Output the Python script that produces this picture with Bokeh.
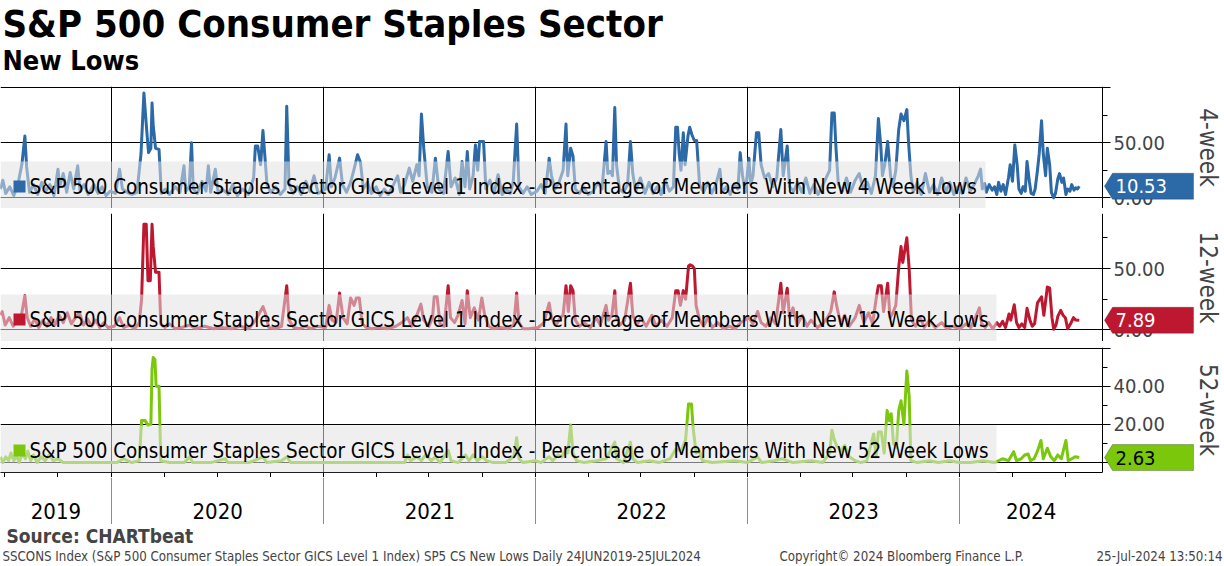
import pandas as pd
from bokeh.plotting import figure
from bokeh.models import (Range1d, LinearAxis, FixedTicker, Grid, Label, PolyAnnotation,
                          BoxAnnotation, PrintfTickFormatter)
from bokeh.layouts import column
from bokeh.embed import file_html
from bokeh.resources import INLINE
from bokeh.core.properties import value

FONT = "DejaVu Sans Condensed"

# ---------------- data ----------------
d4 = ["2019-06-24","2019-06-28","2019-07-03","2019-07-10","2019-07-17","2019-07-24","2019-07-31","2019-08-05","2019-08-08","2019-08-13",
      "2019-08-20","2019-08-27","2019-09-03","2019-09-10","2019-09-17","2019-09-24","2019-10-01","2019-10-04","2019-10-10","2019-10-16",
      "2019-10-22","2019-10-28","2019-11-04","2019-11-08","2019-11-15","2019-11-22","2019-12-02","2019-12-09","2019-12-16","2019-12-23",
      "2019-12-30","2020-01-08","2020-01-15","2020-01-20","2020-01-28","2020-02-05","2020-02-14","2020-02-21","2020-02-26","2020-03-02",
      "2020-03-05","2020-03-09","2020-03-11","2020-03-13","2020-03-17","2020-03-23","2020-03-27","2020-04-03","2020-04-10","2020-04-20",
      "2020-04-28","2020-05-05","2020-05-08","2020-05-14","2020-05-18","2020-05-21","2020-05-28","2020-06-05","2020-06-12","2020-06-16",
      "2020-06-20","2020-06-28","2020-07-03","2020-07-10","2020-07-20","2020-07-28","2020-08-05","2020-08-14","2020-08-24","2020-09-02",
      "2020-09-05","2020-09-09","2020-09-14","2020-09-18","2020-09-21","2020-09-25","2020-10-02","2020-10-10","2020-10-18","2020-10-26",
      "2020-10-29","2020-11-02","2020-11-09","2020-11-16","2020-11-23","2020-12-01","2020-12-08","2020-12-15","2020-12-22","2021-01-04",
      "2021-01-10","2021-01-14","2021-01-20","2021-01-28","2021-02-02","2021-02-09","2021-02-16","2021-02-22","2021-02-28","2021-03-05",
      "2021-03-10","2021-03-17","2021-03-24","2021-04-01","2021-04-08","2021-04-15","2021-04-22","2021-05-01","2021-05-08","2021-05-13",
      "2021-05-20","2021-05-28","2021-06-03","2021-06-10","2021-06-14","2021-06-18","2021-06-22","2021-06-28","2021-07-06","2021-07-12",
      "2021-07-18","2021-07-26","2021-08-03","2021-08-08","2021-08-15","2021-08-22","2021-08-27","2021-09-01","2021-09-05","2021-09-09",
      "2021-09-15","2021-09-19","2021-09-23","2021-09-26","2021-10-03","2021-10-07","2021-10-14","2021-10-21","2021-10-28","2021-11-04",
      "2021-11-11","2021-11-18","2021-11-23","2021-11-29","2021-12-03","2021-12-10","2021-12-17","2021-12-24","2022-01-03","2022-01-10",
      "2022-01-17","2022-01-24","2022-01-28","2022-02-03","2022-02-10","2022-02-17","2022-02-22","2022-02-25","2022-03-02","2022-03-06",
      "2022-03-10","2022-03-17","2022-03-24","2022-04-01","2022-04-10","2022-04-18","2022-04-25","2022-05-02","2022-05-05","2022-05-09",
      "2022-05-13","2022-05-17","2022-05-20","2022-05-25","2022-06-01","2022-06-08","2022-06-13","2022-06-17","2022-06-22","2022-06-30",
      "2022-07-08","2022-07-15","2022-07-22","2022-07-29","2022-08-05","2022-08-12","2022-08-19","2022-08-26","2022-08-30","2022-09-02",
      "2022-09-05","2022-09-08","2022-09-12","2022-09-15","2022-09-20","2022-09-23","2022-09-27","2022-10-01","2022-10-05","2022-10-10",
      "2022-10-17","2022-10-24","2022-10-31","2022-11-07","2022-11-14","2022-11-18","2022-11-25","2022-12-02","2022-12-09","2022-12-15",
      "2022-12-19","2022-12-23","2022-12-28","2023-01-03","2023-01-06","2023-01-10","2023-01-16","2023-01-20","2023-01-24","2023-01-30",
      "2023-02-06","2023-02-13","2023-02-20","2023-02-27","2023-03-03","2023-03-10","2023-03-14","2023-03-21","2023-03-28","2023-04-04",
      "2023-04-11","2023-04-18","2023-04-25","2023-05-02","2023-05-09","2023-05-16","2023-05-22","2023-05-26","2023-05-30","2023-06-02",
      "2023-06-06","2023-06-13","2023-06-20","2023-06-27","2023-07-05","2023-07-12","2023-07-19","2023-07-26","2023-08-02","2023-08-09",
      "2023-08-14","2023-08-18","2023-08-21","2023-08-25","2023-08-30","2023-09-04","2023-09-08","2023-09-13","2023-09-18","2023-09-22",
      "2023-09-27","2023-10-02","2023-10-05","2023-10-09","2023-10-13","2023-10-20","2023-10-27","2023-11-03","2023-11-10","2023-11-17",
      "2023-11-24","2023-12-01","2023-12-08","2023-12-15","2023-12-22","2023-12-29","2024-01-05","2024-01-12","2024-01-19","2024-01-26",
      "2024-02-02","2024-02-06","2024-02-09","2024-02-13","2024-02-16","2024-02-21","2024-02-26","2024-03-01","2024-03-05","2024-03-08",
      "2024-03-12","2024-03-16","2024-03-20","2024-03-25","2024-03-28","2024-04-01","2024-04-05","2024-04-09","2024-04-12","2024-04-16",
      "2024-04-19","2024-04-23","2024-04-26","2024-04-30","2024-05-03","2024-05-07","2024-05-10","2024-05-14","2024-05-17","2024-05-21",
      "2024-05-24","2024-05-28","2024-05-31","2024-06-04","2024-06-07","2024-06-11","2024-06-14","2024-06-18","2024-06-21","2024-06-25",
      "2024-06-28","2024-07-02","2024-07-05","2024-07-09","2024-07-12","2024-07-16","2024-07-19","2024-07-22","2024-07-25"]
v4 = [8,16,4,10,2,12,31,56,28,5,
      12,3,14,6,12,2,26,10,22,5,
      23,8,29,6,12,3,12,4,10,2,
      6,4,26,8,5,3,5,40,95,60,
      41,45,86,66,45,44,4,8,3,10,
      5,29,6,10,50,8,4,15,6,29,
      5,26,4,8,3,12,2,8,3,18,
      47,47,30,61,40,12,5,10,3,8,
      83,12,4,10,3,15,6,20,4,8,
      39,10,18,36,12,5,14,26,39,32,
      8,14,4,10,2,8,3,12,20,5,
      12,27,15,30,20,76,45,10,5,36,
      8,4,42,10,18,3,33,10,42,8,
      20,48,25,51,51,8,16,4,21,3,
      8,4,14,67,10,4,10,3,6,12,
      4,36,20,8,14,25,67,20,45,38,
      8,4,10,3,6,14,8,51,22,24,
      20,82,30,8,5,12,51,22,6,18,
      4,14,4,10,3,16,6,10,64,64,
      40,25,59,30,56,64,57,52,52,12,
      5,14,4,12,26,5,10,3,12,8,
      41,20,5,36,12,20,59,59,30,18,
      22,10,18,62,20,47,10,6,14,5,
      18,4,12,3,10,18,25,77,77,45,
      12,6,18,5,16,22,8,14,4,20,
      72,48,20,30,51,20,10,25,62,76,
      70,80,50,20,5,14,3,22,5,12,
      3,18,5,14,3,10,4,18,6,12,
      20,26,8,13,5,12,7,10,3,14,
      6,12,3,18,30,15,48,30,8,4,
      10,6,33,15,4,3,8,25,40,70,
      40,20,45,30,5,0,4,17,22,14,
      18,3,8,6,12,7,9,8,10.53]

d12 = ["2019-06-24","2019-06-27","2019-07-02","2019-07-09","2019-07-16","2019-07-23","2019-07-30","2019-08-05","2019-08-09","2019-08-15",
       "2019-08-22","2019-08-29","2019-09-05","2019-09-12","2019-09-19","2019-09-26","2019-10-03","2019-10-10","2019-10-17","2019-10-24",
       "2019-10-31","2019-11-07","2019-11-14","2019-11-21","2019-11-28","2019-12-05","2019-12-12","2019-12-19","2019-12-26","2020-01-06",
       "2020-01-15","2020-01-22","2020-02-01","2020-02-10","2020-02-18","2020-02-22","2020-02-26","2020-03-01","2020-03-04","2020-03-08",
       "2020-03-11","2020-03-13","2020-03-17","2020-03-23","2020-03-26","2020-04-02","2020-04-10","2020-04-20","2020-05-01","2020-05-15",
       "2020-05-25","2020-06-10","2020-06-25","2020-07-10","2020-07-25","2020-08-10","2020-08-25","2020-09-05","2020-09-10","2020-09-18",
       "2020-09-22","2020-09-28","2020-10-10","2020-10-20","2020-10-29","2020-11-02","2020-11-10","2020-11-20","2020-12-01","2020-12-10",
       "2020-12-20","2021-01-04","2021-01-10","2021-01-15","2021-01-22","2021-01-28","2021-02-03","2021-02-10","2021-02-16","2021-02-22",
       "2021-02-26","2021-03-03","2021-03-08","2021-03-15","2021-03-25","2021-04-05","2021-04-20","2021-05-05","2021-05-15","2021-05-25",
       "2021-06-01","2021-06-10","2021-06-17","2021-06-22","2021-07-01","2021-07-07","2021-07-10","2021-07-15","2021-07-20","2021-07-27",
       "2021-08-03","2021-08-07","2021-08-14","2021-08-20","2021-08-27","2021-09-01","2021-09-05","2021-09-10","2021-09-17","2021-09-24",
       "2021-09-30","2021-10-05","2021-10-12","2021-10-20","2021-11-01","2021-11-15","2021-11-24","2021-11-29","2021-12-03","2021-12-10",
       "2021-12-20","2022-01-05","2022-01-15","2022-01-24","2022-01-28","2022-02-05","2022-02-12","2022-02-17","2022-02-22","2022-02-26",
       "2022-03-02","2022-03-06","2022-03-10","2022-03-17","2022-03-25","2022-04-05","2022-04-15","2022-04-22","2022-05-02","2022-05-06",
       "2022-05-12","2022-05-17","2022-05-20","2022-05-26","2022-06-03","2022-06-13","2022-06-17","2022-06-24","2022-07-01","2022-07-10",
       "2022-07-20","2022-07-27","2022-08-05","2022-08-15","2022-08-24","2022-08-30","2022-09-03","2022-09-07","2022-09-12","2022-09-16",
       "2022-09-21","2022-09-24","2022-09-28","2022-10-01","2022-10-04","2022-10-10","2022-10-17","2022-10-24","2022-11-01","2022-11-10",
       "2022-11-20","2022-12-01","2022-12-10","2022-12-20","2023-01-03","2023-01-10","2023-01-18","2023-01-24","2023-02-01","2023-02-10",
       "2023-02-18","2023-02-27","2023-03-03","2023-03-10","2023-03-14","2023-03-20","2023-03-27","2023-04-05","2023-04-13","2023-04-20",
       "2023-05-01","2023-05-10","2023-05-18","2023-05-24","2023-05-30","2023-06-03","2023-06-10","2023-06-17","2023-06-25","2023-07-05",
       "2023-07-12","2023-07-20","2023-07-28","2023-08-04","2023-08-10","2023-08-14","2023-08-19","2023-08-23","2023-08-30","2023-09-03",
       "2023-09-08","2023-09-13","2023-09-18","2023-09-22","2023-09-25","2023-10-02","2023-10-06","2023-10-10","2023-10-17","2023-10-25",
       "2023-11-01","2023-11-10","2023-11-20","2023-12-01","2023-12-10","2023-12-20","2024-01-02","2024-01-12","2024-01-20","2024-01-28",
       "2024-02-04","2024-02-08","2024-02-14","2024-02-20","2024-02-27","2024-03-05","2024-03-10","2024-03-15","2024-03-20","2024-03-26",
       "2024-03-29","2024-04-04","2024-04-08","2024-04-12","2024-04-17","2024-04-22","2024-04-26","2024-05-01","2024-05-05","2024-05-09",
       "2024-05-14","2024-05-21","2024-05-25","2024-05-31","2024-06-04","2024-06-08","2024-06-11","2024-06-15","2024-06-18","2024-06-23",
       "2024-06-27","2024-07-01","2024-07-05","2024-07-10","2024-07-15","2024-07-19","2024-07-25"]
v12 = [12,15,4,10,3,8,12,28,10,3,
       9,2,8,3,10,4,12,6,14,5,
       10,14,4,9,3,8,2,6,2,3,
       10,2,4,1,6,25,86,86,40,40,
       86,68,47,47,5,2,5,1,2,4,
       1,3,1,2,1,3,1,8,12,19,
       14,2,1,3,36,8,2,1,3,1,
       3,2,20,8,6,30,10,5,26,20,
       26,26,5,2,1,2,1,3,6,10,
       3,12,21,8,3,10,27,27,5,3,
       36,10,6,12,24,5,32,10,18,8,
       26,12,3,1,2,1,4,30,6,1,
       1,2,6,22,10,4,10,12,36,15,
       36,32,8,3,6,2,10,4,20,8,
       12,32,10,4,8,38,12,4,10,3,
       12,3,8,3,10,32,32,20,32,25,
       52,53,52,50,20,8,3,10,2,6,
       1,3,1,6,10,5,15,6,3,10,
       5,38,14,34,10,18,4,12,3,8,
       2,5,10,15,31,20,5,12,3,10,
       20,6,14,5,25,36,36,15,38,10,
       14,20,51,68,55,75,50,8,3,10,
       2,8,2,6,1,3,1,5,2,10,
       18,5,2,6,1,6,3,7,2,13,
       8,20.5,6,2,5,2,17.6,8,3,5,
       22,27,12,35,34,10,0.5,4,11,16,
       12,10,1,5,10,8,7.89]

d52 = ["2019-06-24","2019-06-28","2019-07-03","2019-07-08","2019-07-12","2019-07-17","2019-07-22","2019-07-26","2019-08-01","2019-08-06",
       "2019-08-10","2019-08-15","2019-08-20","2019-08-26","2019-09-02","2019-09-09","2019-09-16","2019-09-23","2019-10-01","2019-10-10",
       "2019-11-01","2019-12-01","2020-01-10","2020-01-22","2020-02-05","2020-02-18","2020-02-22","2020-02-28","2020-03-04","2020-03-09",
       "2020-03-11","2020-03-13","2020-03-16","2020-03-18","2020-03-23","2020-03-26","2020-04-10","2020-05-05","2020-05-15","2020-05-20",
       "2020-06-20","2020-07-15","2020-07-20","2020-08-25","2020-09-10","2020-09-18","2020-09-25","2020-10-20","2020-10-29","2020-11-05",
       "2020-12-31","2021-04-01","2021-05-20","2021-05-25","2021-05-30","2021-06-10","2021-06-18","2021-06-25","2021-07-05","2021-07-12",
       "2021-07-20","2021-08-03","2021-08-08","2021-08-20","2021-09-02","2021-09-08","2021-09-15","2021-09-22","2021-10-01","2021-10-08",
       "2021-10-20","2021-11-10","2021-11-24","2021-11-29","2021-12-03","2021-12-10","2021-12-31","2022-01-10","2022-01-24","2022-01-30",
       "2022-02-08","2022-02-15","2022-02-20","2022-02-25","2022-03-02","2022-03-06","2022-03-12","2022-03-25","2022-04-15","2022-05-02",
       "2022-05-17","2022-05-20","2022-06-01","2022-06-13","2022-06-17","2022-06-25","2022-07-15","2022-08-01","2022-08-20","2022-08-30",
       "2022-09-08","2022-09-16","2022-09-21","2022-09-26","2022-09-29","2022-10-04","2022-10-10","2022-10-15","2022-11-01","2022-12-10",
       "2022-12-31","2023-01-18","2023-01-25","2023-02-15","2023-03-01","2023-03-10","2023-03-20","2023-04-20","2023-05-10","2023-05-22",
       "2023-05-26","2023-05-30","2023-06-03","2023-06-10","2023-06-17","2023-06-25","2023-07-05","2023-07-15","2023-07-25","2023-08-06",
       "2023-08-10","2023-08-14","2023-08-19","2023-08-24","2023-08-29","2023-09-02","2023-09-05","2023-09-09","2023-09-14","2023-09-18",
       "2023-09-22","2023-09-27","2023-10-02","2023-10-06","2023-10-09","2023-10-20","2023-11-10","2023-11-25","2023-12-15","2023-12-31",
       "2024-01-20","2024-02-10","2024-03-01","2024-03-15","2024-03-25","2024-04-03","2024-04-08","2024-04-16","2024-04-22","2024-04-28",
       "2024-05-02","2024-05-08","2024-05-14","2024-05-20","2024-05-24","2024-05-31","2024-06-06","2024-06-12","2024-06-18","2024-06-24",
       "2024-07-02","2024-07-06","2024-07-12","2024-07-18","2024-07-25"]
v52 = [3,0,3,1,5,1,4,0,5,2,
       6,1,4,0,3,1,4,1,2,0,
       0,0,0,2,0,1,22,22,19.5,20,
       49,55,54,40,40,1,0,0,3,0,
       0,2,0,0,2,3,0,1,3,0,
       0,0,0,4,1,3,1,4,1,3,
       0,6.5,1,0,4,1,4,1,3,1,
       0,0,3,13,2,0,1,0,3,1,
       4,3,6,5,19.7,5,1,0,1,2,
       10.7,2,0,10.7,2,0,1,0,2,7,
       6,12,30.7,30.7,18,5,6,1,0,1,
       0,3,0,1,2,1,0,1,0,5,
       17,12,9,6,9,3,1,0,1,15,
       3,16,16,5,27.3,22,25.6,10,8,27.3,
       32.4,20,48,35,1,0,1,0,1,0,
       0,1,0,2,1,5.7,1,2,4,4.5,
       1,2,6,11.6,2,7.5,3,1,4,2,
       11.6,1,2,3,2.63]

year_labels = ["2019", "2020", "2021", "2022", "2023", "2024"]

TITLE = "S&P 500 Consumer Staples Sector"
SUBTITLE = "New Lows"
LEG4 = "S&P 500 Consumer Staples Sector GICS Level 1 Index - Percentage of Members With New 4 Week Lows"
LEG12 = "S&P 500 Consumer Staples Sector GICS Level 1 Index - Percentage of Members With New 12 Week Lows"
LEG52 = "S&P 500 Consumer Staples Sector GICS Level 1 Index - Percentage of Members With New 52 Week Lows"

# ---------------- layout constants ----------------
W = 1224          # full width; frames span it
AXIS_PX = 1102    # where the value axis sits
BLUE, RED, GREEN = "#2b69a7", "#be1831", "#7ac70c"
X0, X1 = "2019-06-24", "2024-09-03"


def ms(s):
    return int(pd.Timestamp(s).value // 10**6)


XS, XE = ms(X0), ms(X1)
X_END = XS + (XE - XS) * W / AXIS_PX
year_ticks = [ms(f"{y}-01-01") for y in range(2020, 2025)]
quarter_ticks = [ms(t) for t in pd.date_range("2019-07-01", "2024-07-01", freq="QS")]
xr = Range1d(XS, X_END)


def px_x(px):
    """horizontal pixel offset in the frame -> x data value"""
    return XS + px * (X_END - XS) / W


def base_fig(fh, bg="white"):
    return figure(frame_width=W, frame_height=fh, x_range=xr, x_axis_type=None, y_axis_type=None,
                  toolbar_location=None, output_backend="svg", min_border_left=0, min_border_right=0,
                  min_border_top=0, min_border_bottom=0, outline_line_color=None,
                  background_fill_color=bg, border_fill_color=bg)


def panel(dates, vals, color, ylo, yhi, major, minor, hide, leg_label, leg_right, ax_label, fh,
          tag_txt_color, bottom_axis=False):
    p = base_fig(fh)
    p.y_range = Range1d(ylo, yhi)
    ppy = (yhi - ylo) / fh   # data units per pixel

    def px_y(py):
        return ylo + py * ppy

    ticker = FixedTicker(ticks=major, minor_ticks=minor)
    p.add_layout(Grid(dimension=1, ticker=ticker, grid_line_color="black", grid_line_width=1,
                      level="underlay"))
    p.add_layout(Grid(dimension=0, ticker=FixedTicker(ticks=year_ticks), grid_line_color="black",
                      grid_line_width=1, level="underlay"))
    # keep grid lines left of the value axis
    p.add_layout(BoxAnnotation(left=XE, fill_color="white", fill_alpha=1, line_alpha=0,
                               level="underlay"))
    ax = LinearAxis(ticker=ticker, formatter=PrintfTickFormatter(format="%.2f"), fixed_location=XE,
                    axis_label=ax_label, axis_label_text_font=FONT, axis_label_text_font_size="24px",
                    axis_label_text_font_style="normal", axis_label_standoff=26,
                    major_label_text_font=FONT, major_label_text_font_size="20px",
                    major_label_standoff=3, major_tick_out=8, major_tick_in=0,
                    minor_tick_out=5, minor_tick_in=0, axis_line_color="black",
                    major_tick_line_color="black", minor_tick_line_color="black",
                    major_label_overrides={h: "" for h in hide})
    p.add_layout(ax, "right")
    if bottom_axis:
        bx = LinearAxis(ticker=FixedTicker(ticks=quarter_ticks), major_label_text_font_size="0px",
                        major_label_standoff=0, major_tick_out=5, major_tick_in=0, bounds=(XS, XE),
                        axis_line_color="black", major_tick_line_color="black")
        p.add_layout(bx, "below")
    x = pd.to_datetime(dates)
    p.line(x=x, y=vals, line_color=color, line_width=3, line_join="round")

    # legend panel (translucent box over the series, swatch and text)
    p.add_layout(BoxAnnotation(left=px_x(0), right=px_x(leg_right), bottom=ylo, top=px_y(47),
                               fill_color="#e1e1e1", fill_alpha=0.55, line_alpha=0))
    p.add_layout(BoxAnnotation(left=px_x(13), right=px_x(25), bottom=px_y(16), top=px_y(28),
                               fill_color=color, fill_alpha=1, line_alpha=0))
    p.add_layout(Label(x=px_x(29), y=px_y(22), text=leg_label, text_font=FONT,
                       text_font_size="20.4px", text_baseline="middle", text_color="black"))

    # last value tag
    last = vals[-1]
    h = 13 * ppy
    tag = PolyAnnotation(xs=[AXIS_PX + 2, AXIS_PX + 10, AXIS_PX + 91, AXIS_PX + 91, AXIS_PX + 10],
                         ys=[last, last + h, last + h, last - h, last - h],
                         xs_units="screen", ys_units="data", fill_color=color, fill_alpha=1,
                         line_color="#222222", line_width=1)
    p.add_layout(tag)
    p.add_layout(Label(x=AXIS_PX + 13, y=last, x_units="screen", y_units="data", text=f"{last:.2f}",
                       text_color=tag_txt_color, text_font=FONT, text_font_size="20px",
                       text_baseline="middle", text_align="left"))
    return p


p1 = panel(d4, v4, BLUE, -9.7, 101, [0, 50, 100], [25, 75], [100], LEG4, 985, "4-week", 122, "white")
p2 = panel(d12, v12, RED, -9.4, 94.8, [0, 50], [25, 75], [], LEG12, 996, "12-week", 128, "white")
p3 = panel(d52, v52, GREEN, -5.2, 60.3, [0, 20, 40, 60], [10, 30, 50], [60], LEG52, 996, "52-week", 125,
           "black", bottom_axis=True)


def separator(h):
    s = base_fig(h, bg="#3d3d3d")
    s.y_range = Range1d(0, 1)
    return s


# year strip
STRIP_H = 47
strip = base_fig(STRIP_H)
strip.y_range = Range1d(0, STRIP_H)
strip.add_layout(Grid(dimension=0, ticker=FixedTicker(ticks=year_ticks), grid_line_color="#8c8c8c",
                      grid_line_width=1))
bounds = [XS] + year_ticks + [XE]
year_pos = pd.to_datetime([(bounds[i] + bounds[i + 1]) / 2 for i in range(len(year_labels))], unit="ms")
strip.text(x=year_pos, y=[14] * len(year_labels), text=year_labels, text_font=value(FONT),
           text_font_size=value("22px"), text_align="center", text_baseline="middle", text_color="black")


def text_fig(h):
    return figure(width=W, height=h, x_range=Range1d(0, W), y_range=Range1d(0, h), x_axis_type=None,
                  y_axis_type=None, toolbar_location=None, output_backend="svg", min_border=0,
                  outline_line_color=None)


header = text_fig(86)
header.add_layout(Label(x=2, y=63, text=TITLE, text_font=FONT, text_font_size="38px",
                        text_font_style="bold", text_baseline="middle", text_color="black"))
header.add_layout(Label(x=2, y=26, text=SUBTITLE, text_font=FONT, text_font_size="27px",
                        text_font_style="bold", text_baseline="middle", text_color="black"))

footer = text_fig(40)
footer.add_layout(Label(x=6, y=29, text="Source: CHARTbeat", text_font=FONT, text_font_size="19px",
                        text_font_style="bold", text_baseline="middle"))
footer.add_layout(Label(x=2, y=8, text="SSCONS Index (S&P 500 Consumer Staples Sector GICS Level 1 Index) SP5 CS New Lows  Daily 24JUN2019-25JUL2024",
                        text_font=FONT, text_font_size="13.2px", text_baseline="middle"))
footer.add_layout(Label(x=779, y=8, text="Copyright\u00a9 2024 Bloomberg Finance L.P.",
                        text_font=FONT, text_font_size="13.2px", text_baseline="middle"))
footer.add_layout(Label(x=1222, y=8, text="25-Jul-2024 13:50:14", text_font=FONT,
                        text_font_size="13.2px", text_baseline="middle", text_align="right"))

layout = column(header, p1, separator(5), p2, separator(6), p3, strip, footer, spacing=0)
open("out.html", "w").write(file_html(layout, INLINE))
